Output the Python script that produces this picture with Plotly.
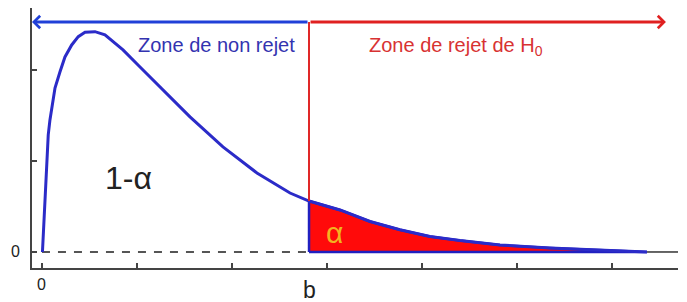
import plotly.graph_objects as go

# Curve values (x in tick units, y in tick units)
curve_x = [0.005, 0.032, 0.049, 0.066, 0.084, 0.102, 0.137, 0.189, 0.242, 0.313, 0.382,
           0.453, 0.558, 0.663, 0.768, 0.853, 1.032, 1.242, 1.558, 1.905, 2.263, 2.611,
           2.811, 3.137, 3.453, 3.768, 4.084, 4.4, 4.821, 5.347, 5.874, 6.368]
curve_y = [0.0, 0.538, 0.978, 1.286, 1.451, 1.582, 1.802, 1.978, 2.143, 2.275, 2.366,
           2.414, 2.421, 2.385, 2.297, 2.220, 2.033, 1.813, 1.484, 1.154, 0.868, 0.648,
           0.560, 0.462, 0.335, 0.245, 0.170, 0.125, 0.077, 0.044, 0.022, 0.0]
b_value = 2.811
x_ticks = [0, 1, 2, 3, 4, 5, 6]
y_ticks = [0, 1, 2]
zero_label = "0"
x_range = [-0.105, 6.695]
y_range = [-0.176, 2.681]
arrow_y = 2.527

FONT = "Liberation Sans, Arial, sans-serif"
BLUE_LINE = "#2b2bc8"
RED = "#ff0a0a"

fig = go.Figure()

# dashed baseline up to b
fig.add_trace(go.Scatter(x=[0, b_value], y=[0, 0], mode="lines",
                         line=dict(color="#555555", width=2, dash="8px,8px"),
                         hoverinfo="skip", showlegend=False))
# solid baseline at right end
fig.add_trace(go.Scatter(x=[curve_x[-1], x_range[1]], y=[0, 0], mode="lines",
                         line=dict(color="#333333", width=1.5),
                         hoverinfo="skip", showlegend=False))

# rejection region fill
tail = [(x, y) for x, y in zip(curve_x, curve_y) if x >= b_value]
poly_x = [b_value] + [p[0] for p in tail] + [b_value]
poly_y = [0] + [p[1] for p in tail] + [0]
fig.add_trace(go.Scatter(x=poly_x, y=poly_y, mode="lines", fill="toself",
                         fillcolor=RED, line=dict(color="#2020c0", width=2.5),
                         hoverinfo="skip", showlegend=False))

# density curve
fig.add_trace(go.Scatter(x=curve_x, y=curve_y, mode="lines",
                         line=dict(color=BLUE_LINE, width=3),
                         hoverinfo="skip", showlegend=False))

# vertical red line at b
fig.add_trace(go.Scatter(x=[b_value, b_value], y=[curve_y[curve_x.index(b_value)], arrow_y],
                         mode="lines", line=dict(color="#e02828", width=2),
                         hoverinfo="skip", showlegend=False))

# arrows
fig.add_annotation(x=x_range[0], y=arrow_y, ax=b_value, ay=arrow_y, axref="x", ayref="y",
                   xref="x", yref="y", text="", showarrow=True, arrowhead=4,
                   arrowsize=0.8, arrowwidth=3, arrowcolor="#2040d8")
fig.add_annotation(x=6.568, y=arrow_y, ax=b_value, ay=arrow_y, axref="x", ayref="y",
                   xref="x", yref="y", text="", showarrow=True, arrowhead=4,
                   arrowsize=0.8, arrowwidth=3, arrowcolor="#e02020")

# texts
fig.add_annotation(x=2.684, y=2.275, text="Zone de non rejet", showarrow=False,
                   xanchor="right", yanchor="middle",
                   font=dict(family=FONT, size=20, color="#3333b0"))
fig.add_annotation(x=3.421, y=2.253, text="Zone de rejet de H<sub>0</sub>", showarrow=False,
                   xanchor="left", yanchor="middle",
                   font=dict(family=FONT, size=20, color="#d83232"))
fig.add_annotation(x=0.642, y=0.813, text="1-α", showarrow=False,
                   xanchor="left", yanchor="middle",
                   font=dict(family=FONT, size=32, color="#222222"))
fig.add_annotation(x=3.084, y=0.209, text="α", showarrow=False,
                   xanchor="center", yanchor="middle",
                   font=dict(family=FONT, size=30, color="#f2b420"))
fig.add_annotation(x=b_value, y=-0.085, xref="x", yref="paper", text="b", showarrow=False,
                   xanchor="center", yanchor="middle",
                   font=dict(family=FONT, size=23, color="#222222"))
# zero tick labels
fig.add_annotation(x=x_ticks[0], y=-0.062, xref="x", yref="paper", text=zero_label,
                   showarrow=False, xanchor="center", yanchor="middle",
                   font=dict(family=FONT, size=16, color="#222222"))
fig.add_annotation(x=-0.026, y=y_ticks[0], xref="paper", yref="y", text=zero_label,
                   showarrow=False, xanchor="center", yanchor="middle",
                   font=dict(family=FONT, size=16, color="#222222"))

fig.update_xaxes(range=x_range, tickvals=x_ticks, showticklabels=False,
                 showline=True, linecolor="#444444", linewidth=1.5,
                 ticks="inside", ticklen=5, tickcolor="#444444", tickwidth=1.5,
                 showgrid=False, zeroline=False, automargin=False)
fig.update_yaxes(range=y_range, tickvals=y_ticks, showticklabels=False,
                 showline=True, linecolor="#444444", linewidth=1.5,
                 ticks="inside", ticklen=5, tickcolor="#444444", tickwidth=1.5,
                 showgrid=False, zeroline=False, automargin=False)

fig.update_layout(width=687, height=302, autosize=False,
                  margin=dict(l=32, r=9, t=8, b=34, autoexpand=False),
                  plot_bgcolor="white", paper_bgcolor="white", showlegend=False)

fig.write_html("out.html", config={"displayModeBar": False},
               post_script="document.body.style.margin='0';document.body.style.overflow='hidden';")
